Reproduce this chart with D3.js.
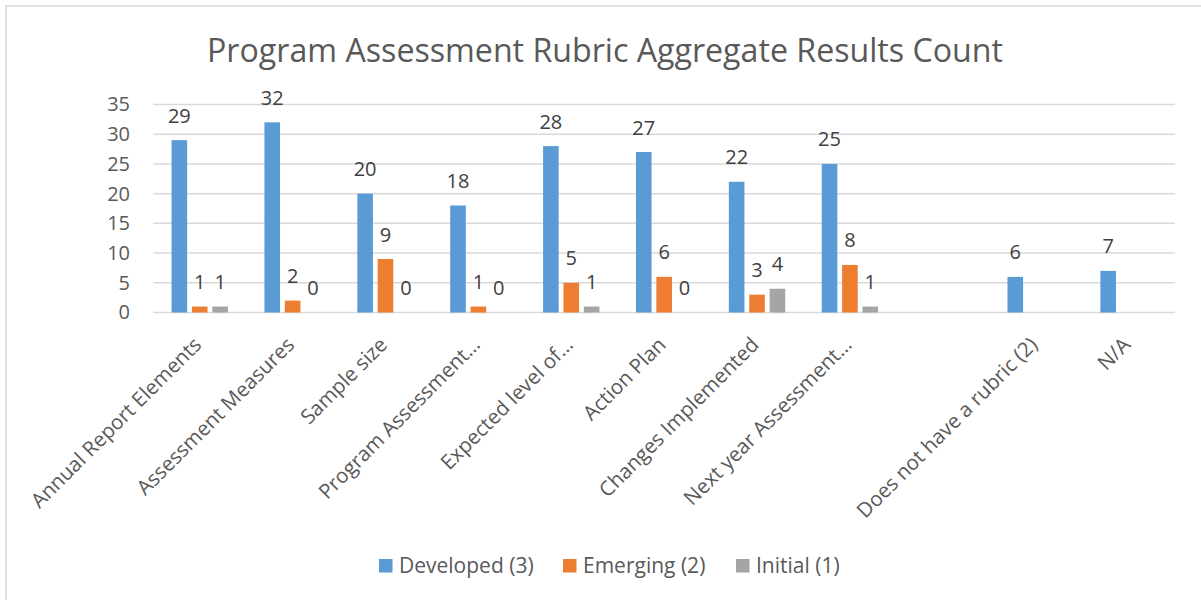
<!DOCTYPE html>
<html>
<head>
<meta charset="utf-8">
<script src="https://cdn.jsdelivr.net/npm/d3@7"></script>
<style>
  body { margin: 0; background: #fff; }
  text { font-family: "Open Sans", "Noto Sans", sans-serif; }
</style>
</head>
<body>
<div id="chart"></div>
<script>
// categories (one empty slot between "Next year..." and "Does not have...")
var categories = ["Annual Report Elements", "Assessment Measures", "Sample size", "Program Assessment\u2026",
  "Expected level of\u2026", "Action Plan", "Changes Implemented", "Next year Assessment\u2026", "",
  "Does not have a rubric (2)", "N/A"];
var developed = [29, 32, 20, 18, 28, 27, 22, 25, null, 6, 7];
var emerging = [1, 2, 9, 1, 5, 6, 3, 8, null, null, null];
var initial = [1, 0, 0, 0, 1, 0, 4, 1, null, null, null];
var seriesNames = ["Developed (3)", "Emerging (2)", "Initial (1)"];
var seriesColors = ["#5B9BD5", "#ED7D31", "#A5A5A5"];
var yTicks = [0, 5, 10, 15, 20, 25, 30, 35];

var width = 1201, height = 600;
var svg = d3.select("#chart").append("svg")
  .attr("width", width)
  .attr("height", height);

// chart frame
svg.append("rect")
  .attr("x", 6).attr("y", 6)
  .attr("width", 1300).attr("height", 700)
  .attr("fill", "#fff")
  .attr("stroke", "#d9d9d9")
  .attr("stroke-width", 1.5);

svg.append("text")
  .attr("x", 605)
  .attr("y", 62)
  .attr("text-anchor", "middle")
  .attr("fill", "#595959")
  .attr("textLength", 796)
  .attr("lengthAdjust", "spacingAndGlyphs")
  .style("font-size", "33px")
  .text("Program Assessment Rubric Aggregate Results Count");

var idx = d3.range(categories.length);
var x0 = d3.scaleBand().domain(idx).range([153.3, 1175]).padding(0);
var x1 = d3.scaleBand().domain(d3.range(3)).range([0, x0.bandwidth()])
  .paddingInner(0.235).paddingOuter(0.895);
var y = d3.scaleLinear().domain([0, 35]).range([312.5, 104.5]);

// gridlines
svg.append("g").selectAll("line")
  .data(yTicks)
  .enter().append("line")
  .attr("x1", 153.3).attr("x2", 1175)
  .attr("y1", function(d) { return y(d); })
  .attr("y2", function(d) { return y(d); })
  .attr("stroke", "#d9d9d9")
  .attr("stroke-width", 1.5);

// y labels
var yAxis = d3.axisLeft(y).tickValues(yTicks).tickSize(0).tickPadding(0);
var yg = svg.append("g").attr("transform", "translate(130,0)").call(yAxis);
yg.select(".domain").remove();
yg.selectAll("text")
  .attr("fill", "#595959")
  .style("font-size", "20px")
  .style("font-family", "'Open Sans', sans-serif");

var series = [developed, emerging, initial];
var bars = svg.append("g");
var labels = svg.append("g");
series.forEach(function(vals, s) {
  var pts = idx.filter(function(i) { return vals[i] !== null; });
  bars.selectAll(".b" + s)
    .data(pts)
    .enter().append("rect")
    .attr("x", function(i) { return x0(i) + x1(s); })
    .attr("width", x1.bandwidth())
    .attr("y", function(i) { return y(vals[i]); })
    .attr("height", function(i) { return y(0) - y(vals[i]); })
    .attr("fill", seriesColors[s]);
  labels.selectAll(".l" + s)
    .data(pts)
    .enter().append("text")
    .attr("x", function(i) { return x0(i) + x1(s) + x1.bandwidth() / 2; })
    .attr("y", function(i) { return y(vals[i]) - 17.5; })
    .attr("text-anchor", "middle")
    .attr("fill", "#404040")
    .style("font-size", "20px")
    .text(function(i) { return vals[i]; });
});

// category labels, rotated
svg.append("g").selectAll("text")
  .data(idx)
  .enter().append("text")
  .attr("transform", function(i) {
    return "translate(" + (x0(i) + x0.bandwidth() / 2 + 3) + ",346) rotate(-45)";
  })
  .attr("text-anchor", "end")
  .attr("fill", "#595959")
  .style("font-size", "20.5px")
  .text(function(i) { return categories[i]; });

// legend
var legendX = [379, 563, 736];
var legend = svg.append("g").selectAll("g")
  .data(seriesNames)
  .enter().append("g")
  .attr("transform", function(d, i) { return "translate(" + legendX[i] + ",559)"; });
legend.append("rect")
  .attr("width", 13.5).attr("height", 13.5)
  .attr("fill", function(d, i) { return seriesColors[i]; });
legend.append("text")
  .attr("x", 20).attr("y", 14)
  .attr("fill", "#595959")
  .style("font-size", "21px")
  .text(function(d) { return d; });
</script>
</body>
</html>
